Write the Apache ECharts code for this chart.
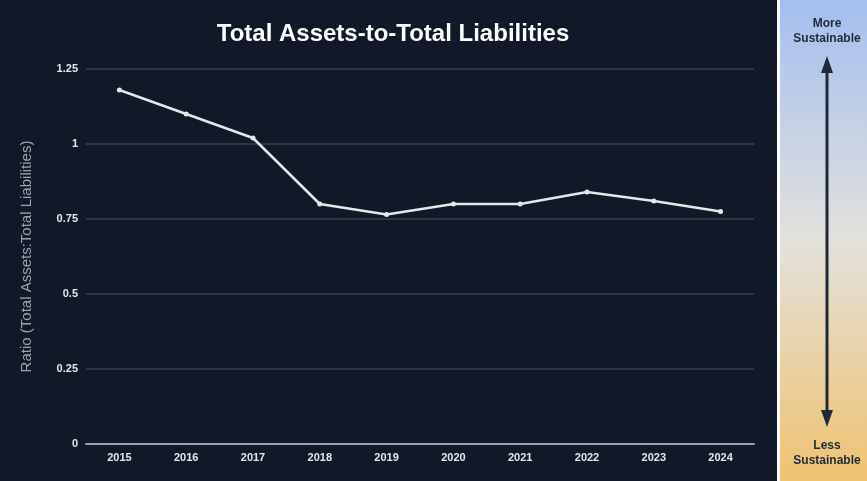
<!DOCTYPE html>
<html><head><meta charset="utf-8">
<script src="https://cdn.jsdelivr.net/npm/echarts@6/dist/echarts.min.js"></script>
<style>html,body{margin:0;padding:0;background:#111827;}#c{width:867px;height:481px;}</style>
</head><body><div id="c"></div>
<script>
const years = ['2015','2016','2017','2018','2019','2020','2021','2022','2023','2024'];
const ratios = [1.18, 1.10, 1.02, 0.80, 0.765, 0.80, 0.80, 0.84, 0.81, 0.775];
const yTicks = {min: 0, max: 1.25, interval: 0.25};

const chart = echarts.init(document.getElementById('c'));
chart.setOption({
  backgroundColor: '#111827',
  animation: false,
  title: {
    text: 'Total Assets-to-Total Liabilities',
    left: 388, top: 17, textAlign: 'center',
    textStyle: {color: '#ffffff', fontSize: 24, fontWeight: 'bold', fontFamily: 'Liberation Sans, Arial, sans-serif'}
  },
  grid: {left: 86, right: 113, top: 69, bottom: 37},
  xAxis: {
    type: 'category', data: years, boundaryGap: true,
    axisLine: {lineStyle: {color: '#9ca3af', width: 2}},
    axisTick: {show: false},
    axisLabel: {color: '#e5e7eb', fontSize: 11, fontWeight: 'bold', fontFamily: 'Liberation Sans, Arial, sans-serif', margin: 8},
    splitLine: {show: false}
  },
  yAxis: {
    type: 'value', min: yTicks.min, max: yTicks.max, interval: yTicks.interval,
    name: 'Ratio (Total Assets:Total Liabilities)', nameLocation: 'middle', nameGap: 52,
    nameTextStyle: {color: '#9ca3af', fontSize: 15, fontFamily: 'Liberation Sans, Arial, sans-serif'},
    axisLine: {show: false}, axisTick: {show: false},
    axisLabel: {color: '#e5e7eb', fontSize: 11, fontWeight: 'bold', fontFamily: 'Liberation Sans, Arial, sans-serif', margin: 8,
      formatter: v => String(v)},
    splitLine: {lineStyle: {color: '#374151', width: 1.5}}
  },
  series: [{
    type: 'line', data: ratios,
    lineStyle: {color: '#e5e7eb', width: 2.5},
    itemStyle: {color: '#e5e7eb'},
    symbol: 'circle', symbolSize: 5
  }],
  graphic: [
    {type: 'rect', shape: {x: 777, y: 0, width: 3, height: 481}, style: {fill: '#ffffff'}},
    {type: 'rect', shape: {x: 780, y: 0, width: 87, height: 481},
      style: {fill: new echarts.graphic.LinearGradient(0, 0, 0, 1, [
        {offset: 0, color: '#a3bff0'},
        {offset: 0.5, color: '#e3e1dc'},
        {offset: 1, color: '#f0c270'}
      ])}},
    {type: 'text', x: 827, y: 16, style: {text: 'More\nSustainable', fill: '#1f2937', font: 'bold 12px Liberation Sans, Arial, sans-serif', align: 'center', verticalAlign: 'top', lineHeight: 15}},
    {type: 'line', shape: {x1: 827, y1: 68, x2: 827, y2: 414}, style: {stroke: '#1f2937', lineWidth: 3}},
    {type: 'polygon', shape: {points: [[827, 56], [821, 73], [833, 73]]}, style: {fill: '#1f2937'}},
    {type: 'polygon', shape: {points: [[827, 427], [821, 410], [833, 410]]}, style: {fill: '#1f2937'}},
    {type: 'text', x: 827, y: 438, style: {text: 'Less\nSustainable', fill: '#1f2937', font: 'bold 12px Liberation Sans, Arial, sans-serif', align: 'center', verticalAlign: 'top', lineHeight: 15}}
  ]
});
</script></body></html>
